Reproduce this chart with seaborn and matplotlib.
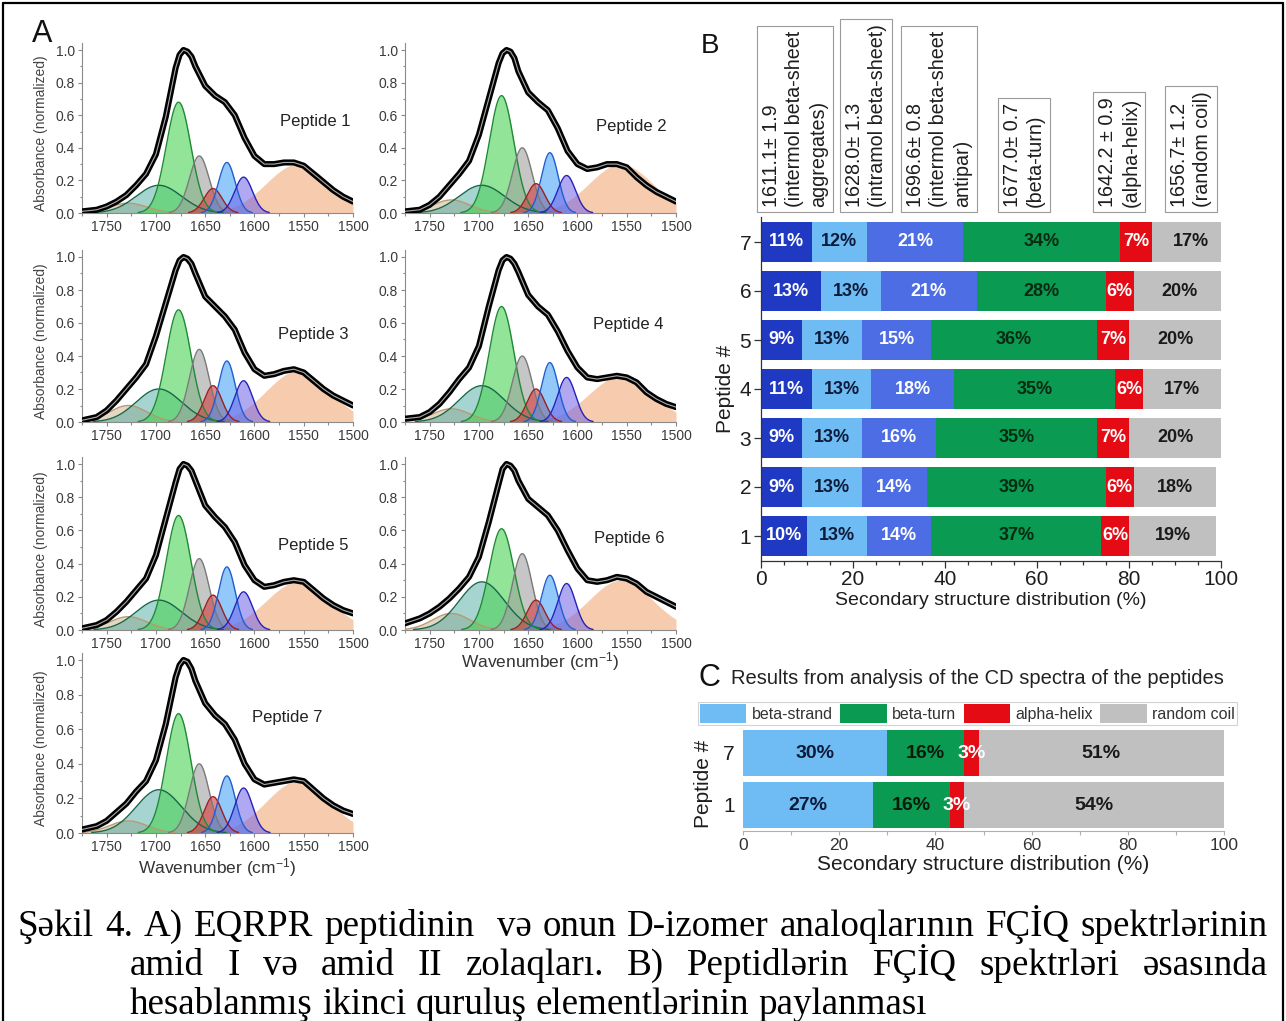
import numpy as np
import pandas as pd
import matplotlib
matplotlib.use("Agg")
import matplotlib.pyplot as plt
from matplotlib.ticker import MultipleLocator, FormatStrFormatter
from matplotlib.lines import Line2D
from matplotlib.patches import Patch
import seaborn as sns

sns.set_theme(style="ticks")
plt.rcParams['font.family'] = ['Liberation Sans', 'DejaVu Sans']
plt.rcParams['mathtext.default'] = 'regular'

# ---------------- FTIR spectra (panel A) ----------------
wavenumbers = [1775, 1760, 1750, 1740, 1730, 1720, 1710, 1700, 1690, 1680, 1676, 1672,
               1668, 1664, 1660, 1650, 1640, 1630, 1620, 1610, 1600, 1590, 1580, 1570,
               1560, 1550, 1540, 1530, 1520, 1510, 1500]

spectrum_p1 = [.01, .02, .04, .07, .11, .17, .24, .36, .59, .89, .97, 1.0, .99, .96, .90, .78,
               .72, .68, .60, .46, .35, .30, .30, .31, .31, .29, .24, .19, .14, .10, .07]
spectrum_p2 = [.01, .02, .05, .10, .17, .24, .32, .48, .70, .92, .98, 1.0, .99, .95, .87, .74,
               .68, .63, .52, .38, .30, .27, .28, .30, .30, .28, .22, .17, .13, .10, .07]
spectrum_p3 = [.01, .03, .07, .13, .20, .27, .35, .52, .72, .92, .98, 1.0, .99, .96, .90, .76,
               .70, .64, .56, .42, .32, .28, .29, .31, .32, .30, .25, .20, .16, .13, .10]
spectrum_p4 = [.02, .03, .06, .11, .18, .26, .33, .46, .70, .92, .98, 1.0, .99, .96, .91, .77,
               .70, .65, .55, .43, .33, .27, .26, .27, .28, .27, .24, .18, .14, .11, .09]
spectrum_p5 = [.01, .03, .06, .11, .17, .24, .31, .45, .67, .89, .97, 1.0, .99, .96, .90, .75,
               .68, .62, .53, .39, .30, .26, .27, .29, .30, .29, .24, .19, .15, .12, .10]
spectrum_p6 = [.04, .07, .10, .14, .19, .25, .32, .44, .65, .88, .97, 1.0, .99, .96, .90, .79,
               .74, .69, .60, .48, .37, .30, .29, .30, .32, .31, .28, .23, .20, .17, .14]
spectrum_p7 = [.02, .04, .07, .12, .17, .24, .30, .42, .63, .90, .97, 1.0, .99, .95, .88, .75,
               .68, .63, .54, .40, .31, .28, .29, .30, .31, .30, .25, .20, .16, .13, .11]

# fitted component bands: centre (cm-1), width (sigma), peak height per peptide
band_centers = [1556, 1728, 1697, 1677, 1656, 1642, 1628, 1611]
band_widths = [32, 19, 23, 12.5, 10, 9, 8.5, 9]
bands_p1 = [0.30, 0.06, 0.17, 0.68, 0.35, 0.15, 0.31, 0.22]
bands_p2 = [0.30, 0.08, 0.17, 0.72, 0.40, 0.18, 0.37, 0.23]
bands_p3 = [0.31, 0.10, 0.20, 0.68, 0.44, 0.22, 0.37, 0.25]
bands_p4 = [0.28, 0.08, 0.22, 0.70, 0.40, 0.20, 0.36, 0.27]
bands_p5 = [0.29, 0.08, 0.18, 0.69, 0.43, 0.21, 0.38, 0.23]
bands_p6 = [0.30, 0.10, 0.29, 0.61, 0.46, 0.18, 0.33, 0.28]
bands_p7 = [0.30, 0.07, 0.25, 0.69, 0.40, 0.21, 0.33, 0.26]

band_fill = ['#f6c3a0', '#c9a77c', '#3aa39a', '#4ad253', '#a0a0a0', '#d23a3a', '#3a9cf7', '#7262e8']
band_edge = [None, '#b89a70', '#17684a', '#1f8a35', '#7a7a7a', '#9c2020', '#1f5fd0', '#2424b8']
band_alpha = [0.85, 0.45, 0.45, 0.6, 0.6, 0.6, 0.55, 0.55]

spectra = [spectrum_p1, spectrum_p2, spectrum_p3, spectrum_p4, spectrum_p5, spectrum_p6, spectrum_p7]
bands = [bands_p1, bands_p2, bands_p3, bands_p4, bands_p5, bands_p6, bands_p7]
peptide_label_pos = [(1538, 0.56), (1545, 0.53), (1540, 0.53), (1548, 0.59),
                     (1540, 0.51), (1547, 0.55), (1567, 0.67)]

# ---------------- FTIR secondary structure (panel B) ----------------
ftir_peptides = [1, 2, 3, 4, 5, 6, 7]
intermol_aggregates = [10, 9, 9, 11, 9, 13, 11]
intramol_sheet = [13, 13, 13, 13, 13, 13, 12]
intermol_antipar = [14, 14, 16, 18, 15, 21, 21]
beta_turn = [37, 39, 35, 35, 36, 28, 34]
alpha_helix = [6, 6, 7, 6, 7, 6, 7]
random_coil = [19, 18, 20, 17, 20, 20, 17]
ftir_colors = ['#2039c2', '#6ebcf3', '#4d6de4', '#0b9a51', '#e50b14', '#c0c0c0']
ftir_text_colors = ['white', '#0d1b3a', 'white', '#062a12', 'white', '#1a1a1a']
band_annotations = [
    "1611.1± 1.9\n(intermol beta-sheet\naggregates)",
    "1628.0± 1.3\n(intramol beta-sheet)",
    "1696.6± 0.8\n(intermol beta-sheet\nantipar)",
    "1677.0± 0.7\n(beta-turn)",
    "1642.2 ± 0.9\n(alpha-helix)",
    "1656.7± 1.2\n(random coil)",
]

# ---------------- CD secondary structure (panel C) ----------------
cd_peptides = [1, 7]
cd_beta_strand = [27, 30]
cd_beta_turn = [16, 16]
cd_alpha_helix = [3, 3]
cd_random_coil = [54, 51]
cd_labels = ['beta-strand', 'beta-turn', 'alpha-helix', 'random coil']
cd_colors = ['#6ebcf3', '#0b9a51', '#e50b14', '#c0c0c0']
cd_text_colors = ['#0d1b3a', '#0a1a0a', 'white', '#1a1a1a']

caption_lines = [
    "Şəkil 4. A) EQRPR peptidinin  və onun D-izomer analoqlarının FÇİQ spektrlərinin",
    "amid I və amid II zolaqları. B) Peptidlərin FÇİQ spektrləri əsasında",
    "hesablanmış ikinci quruluş elementlərinin paylanması",
]

W, H = 1286, 1021
fig = plt.figure(figsize=(W / 100, H / 100), dpi=100)
fig.patch.set_facecolor('white')


def add_axes_px(left, top, right, bottom):
    return fig.add_axes([left / W, 1 - bottom / H, (right - left) / W, (bottom - top) / H])


def px(x, y):
    return x / W, 1 - y / H


# ---------------- panel A ----------------
col_x = [(82, 353), (405, 676)]
row_y = [(213, 163), (422, 165), (630, 166), (833, 173)]
grid = np.linspace(1775, 1500, 700)

for i in range(7):
    r, c = divmod(i, 2)
    x0, x1 = col_x[c]
    y0, unit = row_y[r]
    ax = add_axes_px(x0, y0 - 1.04 * unit, x1, y0)
    ax.set_facecolor('none')

    for k, (cen, sig, h) in enumerate(zip(band_centers, band_widths, bands[i])):
        y = h * np.exp(-0.5 * ((grid - cen) / sig) ** 2)
        m = y > 0.003
        ax.fill_between(grid[m], 0, y[m], color=band_fill[k], alpha=band_alpha[k], lw=0, zorder=2)
        if band_edge[k] is not None:
            ax.plot(grid[m], y[m], color=band_edge[k], lw=1.0, zorder=3)

    df = pd.DataFrame({'wn': wavenumbers, 'absorb': spectra[i]})
    sns.lineplot(data=df, x='wn', y='absorb', ax=ax, color='black', lw=4.4, zorder=5)
    ax.plot(wavenumbers, spectra[i], color='#d6d6d6', lw=0.8, alpha=0.8, zorder=6)

    ax.set_xlim(1775, 1500)
    ax.set_ylim(0, 1.04)
    ax.xaxis.set_major_locator(MultipleLocator(50))
    ax.xaxis.set_minor_locator(MultipleLocator(25))
    ax.yaxis.set_major_locator(MultipleLocator(0.2))
    ax.yaxis.set_minor_locator(MultipleLocator(0.1))
    ax.yaxis.set_major_formatter(FormatStrFormatter('%.1f'))
    for sp in ['top', 'right']:
        ax.spines[sp].set_visible(False)
    for sp in ['left', 'bottom']:
        ax.spines[sp].set_color('#8a8a8a')
        ax.spines[sp].set_linewidth(0.8)
    ax.tick_params(which='both', direction='out', colors='#8a8a8a', labelcolor='#3a3a3a',
                   labelsize=10, width=0.8, length=3, pad=2)
    ax.tick_params(which='minor', length=1.8)
    ax.set_xlabel('')
    ax.set_ylabel('')
    if c == 0:
        ax.set_ylabel('Absorbance (normalized)', fontsize=10, color='#444444')
        ax.yaxis.set_label_coords(-0.125, 0.47)
    px_, py_ = peptide_label_pos[i]
    ax.text(px_, py_, f'Peptide {i + 1}', ha='center', va='center', fontsize=12, color='#222222')
    if i in (5, 6):
        ax.set_xlabel('Wavenumber (cm$^{-1}$)', fontsize=12.5, color='#333333', va='center')
        ax.xaxis.set_label_coords(0.5, -(35 if i == 6 else 32) / (1.04 * unit))

fig.text(*px(42, 34), 'A', fontsize=22, ha='center', va='center', color='#111111')

# ---------------- panel B ----------------
axb = add_axes_px(761, 217.5, 1221, 560.5)
segments = [intermol_aggregates, intramol_sheet, intermol_antipar, beta_turn, alpha_helix, random_coil]
left = np.zeros(len(ftir_peptides))
for seg, col, tcol in zip(segments, ftir_colors, ftir_text_colors):
    vals = np.array(seg, dtype=float)
    axb.barh(ftir_peptides, vals, left=left, height=0.8, color=col, lw=0, zorder=2)
    for yy, l, v in zip(ftir_peptides, left, vals):
        axb.text(l + v / 2, yy, f'{int(v)}%', ha='center', va='center', fontsize=13,
                 fontweight='bold', color=tcol, zorder=3)
    left = left + vals

axb.set_xlim(0, 100)
axb.set_ylim(0.5, 7.5)
axb.set_yticks(ftir_peptides)
axb.set_yticklabels([str(p) for p in ftir_peptides])
axb.xaxis.set_major_locator(MultipleLocator(20))
axb.xaxis.set_minor_locator(MultipleLocator(5))
for sp in ['top', 'right']:
    axb.spines[sp].set_visible(False)
for sp in ['left', 'bottom']:
    axb.spines[sp].set_color('#333333')
    axb.spines[sp].set_linewidth(0.9)
axb.tick_params(which='both', direction='out', colors='#333333', labelcolor='#1e1e1e',
                labelsize=15, width=0.9, length=5, pad=2)
axb.tick_params(which='minor', length=3)
axb.set_ylabel('Peptide #', fontsize=15, color='#1e1e1e')
axb.yaxis.set_label_coords(-0.056, 0.5)
axb.set_xlabel('Secondary structure distribution (%)', fontsize=14, color='#1e1e1e', va='center')
axb.xaxis.set_label_coords(0.5, -40 / 343)

fig.text(*px(710, 46), 'B', fontsize=20, ha='center', va='center', color='#111111')
box_x = [795, 866, 939, 1024, 1119, 1191]
for bx, txt in zip(box_x, band_annotations):
    fig.text(*px(bx, 207), txt, rotation=90, ha='center', va='bottom', multialignment='left',
             fontsize=14.2, color='#1e1e1e', linespacing=1.3,
             bbox=dict(boxstyle='square,pad=0.25', fc='white', ec='#9a9a9a', lw=0.8))

# ---------------- panel C ----------------
axc = add_axes_px(743, 727, 1224, 831)
cd_segments = [cd_beta_strand, cd_beta_turn, cd_alpha_helix, cd_random_coil]
cd_pos = [1, 2]
left = np.zeros(len(cd_peptides))
for seg, col, tcol in zip(cd_segments, cd_colors, cd_text_colors):
    vals = np.array(seg, dtype=float)
    axc.barh(cd_pos, vals, left=left, height=0.87, color=col, lw=0, zorder=2)
    for yy, l, v in zip(cd_pos, left, vals):
        axc.text(l + v / 2, yy, f'{int(v)}%', ha='center', va='center', fontsize=14,
                 fontweight='bold', color=tcol, zorder=3)
    left = left + vals

axc.set_xlim(0, 100)
axc.set_ylim(0.5, 2.5)
axc.set_yticks(cd_pos)
axc.set_yticklabels([str(p) for p in cd_peptides])
axc.xaxis.set_major_locator(MultipleLocator(20))
axc.xaxis.set_minor_locator(MultipleLocator(10))
for sp in ['top', 'right', 'left']:
    axc.spines[sp].set_visible(False)
axc.spines['bottom'].set_color('#b0b0b0')
axc.spines['bottom'].set_linewidth(0.8)
axc.tick_params(axis='x', which='both', direction='out', colors='#b0b0b0', labelcolor='#333333',
                labelsize=12.5, width=0.8, length=3, pad=2)
axc.tick_params(axis='y', length=0, labelsize=15, labelcolor='#1e1e1e', pad=6)
axc.set_ylabel('Peptide #', fontsize=15, color='#1e1e1e')
axc.yaxis.set_label_coords(-0.062, 0.45)
axc.set_xlabel('Secondary structure distribution (%)', fontsize=15, color='#1e1e1e', va='center')
axc.xaxis.set_label_coords(0.5, -33 / 104)

handles = [Patch(facecolor=c, edgecolor='none') for c in cd_colors]
leg = fig.legend(handles, cd_labels, loc='lower left',
                 bbox_to_anchor=(698 / W, 1 - 725 / H, 539 / W, 25 / H),
                 bbox_transform=fig.transFigure, mode='expand', ncol=4, fontsize=11.5,
                 handlelength=2.9, handleheight=1.5, handletextpad=0.35, borderpad=0.12,
                 columnspacing=0.2, borderaxespad=0, fancybox=False, frameon=True)
leg.get_frame().set_edgecolor('#c8c8c8')
leg.get_frame().set_linewidth(0.8)
for t in leg.get_texts():
    t.set_color('#333333')

fig.text(*px(709, 678), 'C', fontsize=22, ha='center', va='center', color='#111111')
fig.text(*px(731, 678), 'Results from analysis of the CD spectra of the peptides',
         fontsize=14.5, ha='left', va='center', color='#222222')

# ---------------- frame ----------------
for xs, ys in [([3, 1283], [3, 3]), ([3, 3], [3, 1021]), ([1283, 1283], [3, 1021])]:
    fig.add_artist(Line2D([x / W for x in xs], [1 - y / H for y in ys],
                          transform=fig.transFigure, color='black', lw=1.6))

# ---------------- caption ----------------
renderer = fig.canvas.get_renderer()
serif = 'Liberation Serif'


def text_width(s, size):
    t = fig.text(0, 0, s, fontsize=size, family=serif)
    w = t.get_window_extent(renderer).width
    t.remove()
    return w


cap_size = 20 * 1232 / text_width(caption_lines[0], 20)


def draw_justified(line, x0, x1, y_base, justify=True):
    words = line.split(' ')
    widths = [text_width(w, cap_size) if w else 0.0 for w in words]
    if justify:
        gap = (x1 - x0 - sum(widths)) / (len(words) - 1)
    else:
        gap = text_width('a b', cap_size) - text_width('ab', cap_size)
    x = x0
    for w, ww in zip(words, widths):
        if w:
            fig.text(*px(x, y_base), w, fontsize=cap_size, family=serif,
                     ha='left', va='baseline', color='black')
        x += ww + gap


draw_justified(caption_lines[0], 18, 1268, 936)
draw_justified(caption_lines[1], 130, 1268, 975)
draw_justified(caption_lines[2], 130, 1268, 1014, justify=False)

fig.savefig('out.png', dpi=100, facecolor='white')
